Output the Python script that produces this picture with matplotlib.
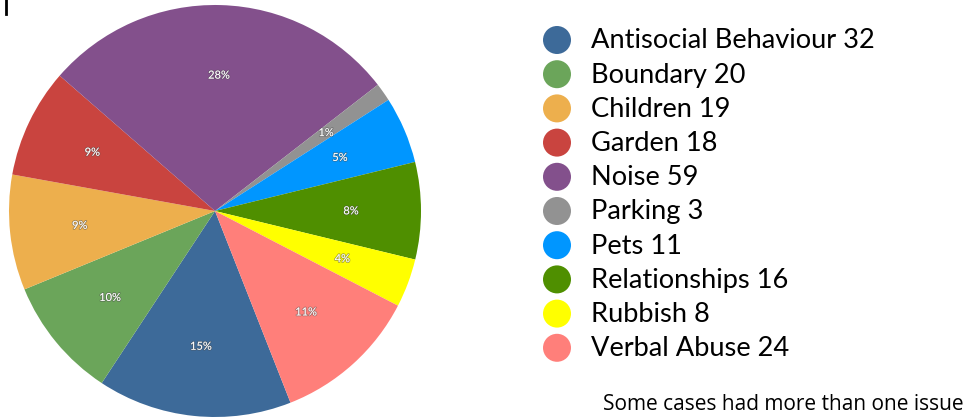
import matplotlib
matplotlib.use("Agg")
import matplotlib.pyplot as plt
import matplotlib.patheffects as pe
from matplotlib.patches import Ellipse
from matplotlib.lines import Line2D

categories = ["Antisocial Behaviour", "Boundary", "Children", "Garden", "Noise",
              "Parking", "Pets", "Relationships", "Rubbish", "Verbal Abuse"]
counts = [32, 20, 19, 18, 59, 3, 11, 16, 8, 24]
colors = ["#3D6A99", "#6BA55A", "#EDAF4D", "#C9443F", "#83508C",
          "#929292", "#0096FF", "#4F8F00", "#FFFF00", "#FF7F7A"]
note = "Some cases had more than one issue"

W, H = 967, 417
fig = plt.figure(figsize=(W / 100, H / 100), dpi=100)

cx, cy, R = 215, 211, 206
ax = fig.add_axes([(cx - R) / W, (H - cy - R) / H, 2 * R / W, 2 * R / H])
wedges, texts, autotexts = ax.pie(
    counts, colors=colors, startangle=-68.5, counterclock=False,
    autopct=lambda p: f"{p:.0f}%", pctdistance=0.66,
    wedgeprops=dict(linewidth=0),
    textprops=dict(color="white", fontsize=8, family="Lato"))
for t in autotexts:
    t.set_path_effects([pe.withStroke(linewidth=1.2, foreground=(0.3, 0.3, 0.3, 0.45))])
ax.set_xlim(-1, 1)
ax.set_ylim(-1, 1)
ax.set_aspect("equal")

# legend drawn manually
lx_circle, lx_text = 557, 591
y0, dy = 40, 34.2
for i, (c, n, col) in enumerate(zip(categories, counts, colors)):
    y = y0 + i * dy
    fig.add_artist(Ellipse((lx_circle / W, 1 - y / H), 28 / W, 28 / H,
                           transform=fig.transFigure, facecolor=col, edgecolor="none"))
    fig.text(lx_text / W, 1 - (y + 1) / H, f"{c} {n}", fontsize=19.6, family="Lato",
             va="center", ha="left", color="black")

fig.text(603 / W, 1 - 405 / H, note, fontsize=15, family="Open Sans",
         va="center", ha="left", color="black")

fig.add_artist(Line2D([6 / W, 6 / W], [1, 1 - 14 / H], transform=fig.transFigure,
                      color="black", linewidth=2))

fig.savefig("out.png", dpi=100)
